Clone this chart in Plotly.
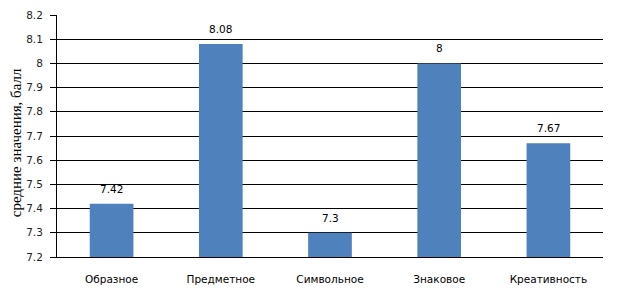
import plotly.graph_objects as go

categories = ["Образное", "Предметное", "Символьное", "Знаковое", "Креативность"]
values = [7.42, 8.08, 7.3, 8.0, 7.67]
value_labels = ["7.42", "8.08", "7.3", "8", "7.67"]
y_ticks = [7.2, 7.3, 7.4, 7.5, 7.6, 7.7, 7.8, 7.9, 8.0, 8.1, 8.2]
y_tick_labels = ["7.2", "7.3", "7.4", "7.5", "7.6", "7.7", "7.8", "7.9", "8", "8.1", "8.2"]
base_value = 7.2

fig = go.Figure(go.Bar(
    x=categories, y=[v - base_value for v in values], base=base_value,
    marker=dict(color="#4F81BD", line=dict(width=0)),
    hoverinfo="skip",
))

for c, v, t in zip(categories, values, value_labels):
    fig.add_annotation(x=c, y=v, text=t, showarrow=False, yanchor="bottom",
                       yshift=7, font=dict(family="DejaVu Sans", size=10.5, color="#000000"))

fig.add_annotation(xref="paper", yref="paper", x=-41/546, y=0.47, text="средние значения, балл",
                   textangle=-90, showarrow=False, xanchor="center", yanchor="middle",
                   font=dict(family="Liberation Serif", size=15, color="#000000"))

# page body has an 8px default margin, so the figure is sized to fit the window
fig.update_layout(
    width=610, height=280,
    margin=dict(l=49, r=15, t=7, b=31, autoexpand=False),
    paper_bgcolor="white", plot_bgcolor="white",
    bargap=0.6, showlegend=False,
    font=dict(family="DejaVu Sans", size=10.5, color="#000000"),
)
fig.update_yaxes(
    range=[7.2, 8.2], tickvals=y_ticks, ticktext=y_tick_labels,
    showgrid=True, gridcolor="#000000", gridwidth=1,
    showline=True, linecolor="#000000", linewidth=1,
    ticks="outside", ticklen=6, tickcolor="#000000", ticklabelstandoff=5,
    zeroline=False, automargin=False,
    tickfont=dict(family="DejaVu Sans", size=10.5, color="#222222"),
)
fig.update_xaxes(
    showline=True, linecolor="#000000", linewidth=1,
    ticks="", ticklabelstandoff=12, automargin=False,
    tickfont=dict(family="DejaVu Sans", size=10.5, color="#000000"),
)
fig.write_html("out.html")
